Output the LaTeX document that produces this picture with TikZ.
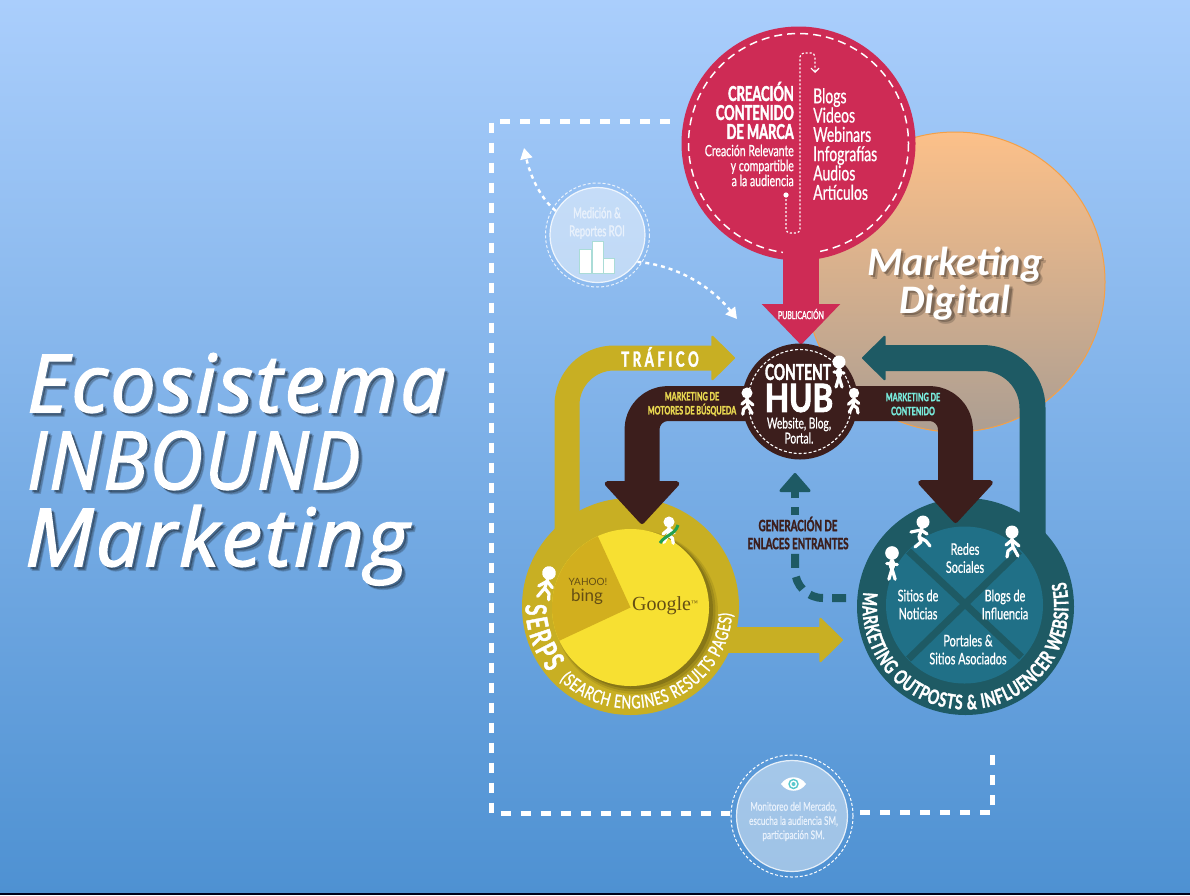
\documentclass[tikz,border=0pt]{standalone}
\usepackage{fontspec}
\usepackage{graphicx}
\usetikzlibrary{arrows.meta,decorations.text,calc}
\newfontfamily\cond[FakeStretch=0.68,FakeBold=0.7]{Lato}
\newfontfamily\condb[FakeStretch=0.63,FakeBold=1.8]{Lato}
\newfontfamily\condm[FakeStretch=0.70,FakeBold=1.4]{Lato}
\newfontfamily\plainf{Lato}
\newfontfamily\titlef[LetterSpace=3,FakeBold=2]{Open Sans}
\newfontfamily\digf{Carlito}
\newfontfamily\gf{Liberation Serif}
\newcommand\fz[2]{\fontsize{#1}{#2}\selectfont}
\definecolor{crim}{RGB}{206,43,85}
\definecolor{hubb}{RGB}{60,30,28}
\definecolor{gold}{RGB}{200,175,35}
\definecolor{tealo}{RGB}{30,90,100}
\definecolor{teali}{RGB}{32,112,135}
\definecolor{yel}{RGB}{247,224,50}
\definecolor{wedge}{RGB}{210,175,30}
\definecolor{yt}{RGB}{232,215,80}
\definecolor{tt}{RGB}{120,235,220}
\definecolor{softw}{RGB}{232,241,252}
\definecolor{eyec}{RGB}{90,200,205}
\definecolor{barc}{RGB}{170,220,215}
\definecolor{grn}{RGB}{35,160,80}
\definecolor{bgA}{RGB}{170,206,252}
\definecolor{bgB}{RGB}{118,172,230}
\definecolor{bgC}{RGB}{78,145,210}
\definecolor{orA}{RGB}{252,192,137}
\definecolor{orB}{RGB}{172,158,146}
\definecolor{orE}{RGB}{245,160,70}
\definecolor{olive}{RGB}{100,78,20}
\pgfdeclarelayer{bgl}\pgfdeclarelayer{back}\pgfdeclarelayer{front}\pgfdeclarelayer{top}
\pgfsetlayers{bgl,back,main,front,top}
\tikzset{
  disc/.style={circle,inner sep=0pt,minimum size=#1},
  lbl/.style={inner sep=0pt,align=center,text=white},
  fat/.style={draw=#1,line join=round},
  ring/.style={draw=white,line width=1.5pt,dash pattern=on 8pt off 5pt},
  thindash/.style={draw=white,line width=2.4pt,dash pattern=on 4pt off 4pt,-{Triangle[width=12pt,length=11pt,fill=white]}},
  bigdash/.style={draw=white,line width=5pt,dash pattern=on 10pt off 10pt},
  softdisc/.style={fill=white,fill opacity=.45,draw=white,draw opacity=.8,line width=1.2pt},
  limb/.style={white,line width=3.2pt,line cap=round,line join=round},
  person/.pic={
    \fill[white] (0,0) circle[radius=6.5];
    \draw[limb] (0,6)--(0,15)--(-3,25) (0,15)--(3,25);
    \draw[white,line width=6pt,line cap=round] (0,9)--(0,13);
    \draw[limb] (-5,10)--(5,11);
  },
  walker/.pic={
    \fill[white] (0,0) circle[radius=6.5];
    \draw[limb] (0,6)--(-1,15)--(-6,24) (-1,15)--(4,19)--(5,25);
    \draw[limb] (0,8)--(-7,14) (0,8)--(6,13);
  },
  runner/.pic={
    \fill[white] (0,0) circle[radius=6.5];
    \draw[limb] (-1,6)--(-4,15)--(-2,20)--(-8,25) (-4,15)--(3,19)--(7,24);
    \draw[limb] (-2,8)--(-12,10) (-2,8)--(4,12);
  }
}
\newcommand\arctext[7]{% cx cy r t0 t1 align text
  \path[decorate,decoration={text along path,text align={#6},text color=white,text={#7}}]
    plot[domain=#4:#5,samples=120] ({#1+#3*cos(\x)},{#2+#3*sin(\x)});}
\newcommand\ttl[4]{%
  \node[anchor=base west,inner sep=0pt,text=black,text opacity=.16,font=\titlef\itshape\fz{80}{80}] (#1a) at (#2+4,#3+4) {#4};
  \node[anchor=base west,inner sep=0pt,text=black,text opacity=.25,font=\titlef\itshape\fz{80}{80}] (#1b) at (#2+2.5,#3+2.5) {#4};
  \node[anchor=base west,inner sep=0pt,text=white,font=\titlef\itshape\fz{80}{80}] (#1) at (#2,#3) {#4};}
\newcommand\dig[4]{%
  \node[anchor=base,inner sep=0pt,text=black,text opacity=.18,font=\digf\bfseries\itshape\fz{40.5}{41}] (#1a) at (#2+4,#3+4) {#4};
  \node[anchor=base,inner sep=0pt,text=black,text opacity=.25,font=\digf\bfseries\itshape\fz{40.5}{41}] (#1b) at (#2+2.5,#3+2.5) {#4};
  \node[anchor=base,inner sep=0pt,text=white,font=\digf\bfseries\itshape\fz{40.5}{41}] (#1) at (#2,#3) {#4};}
\begin{document}
\begin{tikzpicture}[x=1pt,y=-1pt]
\useasboundingbox (0,0) rectangle (1190,895);
\begin{pgfonlayer}{bgl}
  \shade[top color=bgA,middle color=bgB,bottom color=bgC] (0,0) rectangle (1190,893);
  \fill[black!90!blue] (0,893) rectangle (1190,895);
  \node[disc=300pt,top color=orA,bottom color=orB,draw=orE,line width=1pt] (digital) at (955,282) {};
  \dig{dig1}{955}{275}{Marketing}
  \dig{dig2}{955}{313}{Digital}
  \ttl{t1}{27}{412}{\scalebox{1.01}[1]{Ecosistema}}
  \ttl{t2}{27}{489}{\scalebox{.92}[1]{INBOUND}}
  \ttl{t3}{25}{566}{\scalebox{1.02}[1]{Marketing}}
\end{pgfonlayer}

% main discs
\node[disc=217pt,fill=gold] (serps) at (630.5,606.5) {};
\node[disc=217pt,fill=tealo] (outp) at (965.5,606.5) {};
\fill[black!60!gold,opacity=.15] (636,612) circle[radius=82];
\fill[black!60!gold,opacity=.22] (635,611) circle[radius=80.5];
\fill[black!60!gold,opacity=.3] (634,610) circle[radius=79];
\node[disc=157pt,fill=yel] (serpsin) at (630.5,607.5) {};
\fill[wedge] (serpsin.center) -- plot[domain=-114.6:-205,samples=40] ({630.5+78.5*cos(\x)},{607.5+78.5*sin(\x)}) -- cycle;
\node[disc=157pt,fill=teali] (outin) at (964.5,605) {};
\draw[tealo,line width=7pt] ($(outin.center)+(-56,-54)$) -- ($(outin.center)+(57,52)$);
\draw[tealo,line width=7pt] ($(outin.center)+(55,-54)$) -- ($(outin.center)+(-56,54)$);

\node[lbl,text=olive,font=\plainf\fz{10}{10}] (yahoo) at (588,582) {YAHOO!};
\node[lbl,text=olive,font=\plainf\fz{17}{17}] (bing) at (587,597) {bing};
\node[lbl,text=olive,font=\gf\fz{20}{20}] (google) at (665,606) {Google{\raisebox{5pt}{\fz{7}{7}™}}};

\node[lbl,font=\cond\fz{16}{18}] (redes) at (965,558) {Redes\\Sociales};
\node[lbl,font=\cond\fz{16}{18}] (sitios) at (918,604.5) {Sitios de\\Noticias};
\node[lbl,font=\cond\fz{16}{18}] (blogsi) at (1005,604.5) {Blogs de\\Influencia};
\node[lbl,font=\cond\fz{16}{18}] (portales) at (968,649.5) {Portales \&\\Sitios Asociados};

% arrows under the discs
\begin{pgfonlayer}{back}
  \coordinate (gc) at (567,358);
  \coordinate (gt) at (735,358);
  \draw[fat=gold,line width=25pt,rounded corners=47pt,-{Triangle[width=47pt,length=24pt,round,line width=2pt]}] (gc |- serps.center) -- (gc) -- (gt);
  \coordinate (g2) at (843,640);
  \draw[fat=gold,line width=26pt,-{Triangle[width=47pt,length=24pt,round,line width=2pt]}] (serps.center |- g2) -- (g2);
  \coordinate (tc) at (1032.5,358);
  \coordinate (tt) at (862,358);
  \draw[fat=tealo,line width=26pt,rounded corners=50pt,-{Triangle[width=47pt,length=24pt,round,line width=2pt]}] (tc |- outp.center) -- (tc) -- (tt);
\end{pgfonlayer}

% brand content disc
\begin{pgfonlayer}{front}
  \node[disc=234pt,fill=crim] (create) at (798.5,143.5) {};
  \draw[ring] (create.center) circle[radius=110];
  \coordinate (rt) at (801,345);
  \draw[fat=crim,line width=36pt,-{Triangle[width=76pt,length=41pt]}] (create.center -| rt) -- (rt);
  \node[lbl,font=\condb\fz{11}{11}] (pub) at (801,314) {PUBLICACIÓN};
  \node[lbl,align=right,anchor=east,font=\condb\bfseries\fz{20.5}{19}] (ctitle) at (794,110.5) {CREACIÓN\\CONTENIDO\\DE MARCA};
  \node[lbl,align=right,anchor=east,font=\cond\fz{15.5}{15}] (csub) at (794,165.5) {Creación Relevante\\y compartible\\a la audiencia};
  \node[lbl,align=left,anchor=west,font=\cond\fz{20.5}{19.3}] (clist) at (813,144) {Blogs\\Videos\\Webinars\\Infografías\\Audios\\Artículos};
  \fill[white] (786,195) circle[radius=2.6];
  \coordinate (dpa) at (786,195);
  \coordinate (dpb) at (800,233);
  \coordinate (dpc) at (815,53);
  \coordinate (dpd) at (815,73);
  \draw[white,line width=1.2pt,dash pattern=on 2pt off 2pt,rounded corners=4pt,-{Straight Barb[width=8pt,length=4pt,line width=1.2pt]}]
    (dpa) -- (dpa |- dpb) -- (dpb) -- (dpb |- dpc) -- (dpc) -- (dpd);
\end{pgfonlayer}

% hub and the connectors that leave it
\begin{pgfonlayer}{top}
  \node[disc=116pt,fill=hubb] (hub) at (800,401.5) {};
  \draw[white,line width=1.1pt,dash pattern=on 3pt off 2pt] (hub.center) circle[radius=52];
  \node[lbl,font=\condb\bfseries\fz{22}{22}] (hub1) at (798,372) {CONTENT};
  \node[lbl,font=\condb\bfseries\fz{39}{39}] (hub2) at (799,398) {\scalebox{1.28}[1]{HUB}};
  \node[lbl,font=\cond\fz{15}{15}] (hub3) at (799,430.5) {Website, Blog,\\Portal.};
\end{pgfonlayer}
\begin{pgfonlayer}{front}
  \coordinate (bl) at (642,403.5);
  \coordinate (blt) at (642,524);
  \draw[fat=hubb,line width=35pt,rounded corners=26pt,-{Triangle[width=80pt,length=44pt,round,line width=5pt]}] (hub.center |- bl) -- (bl) -- (blt);
  \coordinate (br) at (955.5,403.5);
  \coordinate (brt) at (955.5,523);
  \draw[fat=hubb,line width=35pt,rounded corners=26pt,-{Triangle[width=80pt,length=44pt,round,line width=5pt]}] (hub.center |- br) -- (br) -- (brt);
\end{pgfonlayer}
\begin{pgfonlayer}{top}
  \node[lbl,text=yt,font=\condb\bfseries\fz{11.5}{14}] (mm) at (692,404) {MARKETING DE\\MOTORES DE BÚSQUEDA};
  \node[lbl,text=tt,font=\condb\bfseries\fz{11.5}{14}] (mc) at (913,404) {MARKETING DE\\CONTENIDO};
  \node[lbl,font=\condb\bfseries\fz{21}{21}] (traf) at (660,357) {T\,R\,Á\,F\,I\,C\,O};
  \pic[scale=1] at (839,362) {person};
  \pic[scale=.8] at (854,393) {walker};
  \pic[scale=.85,xscale=-1] at (747,393) {walker};
  \pic[scale=1] at (923,522) {runner};
  \pic[scale=1,xscale=-1] at (1012,532) {walker};
  \pic[scale=1.05] at (892,553) {person};
  \pic[scale=.85] at (669,522) {walker};
  \pic[scale=1.05,rotate=-12] at (549,573) {walker};
  \draw[grn,line width=3pt] (660,543) .. controls (665,535) and (675,535) .. (678,525);
\end{pgfonlayer}

% curved labels
\begin{pgfonlayer}{top}
  \arctext{630.5}{606.5}{105}{181}{141}{fit to path}{|\condm\bfseries\fz{29}{29}|SERPS}
  \arctext{630.5}{606.5}{102}{134}{4}{fit to path}{|\condm\fz{18}{18}|(SEARCH ENGINES RESULTS PAGES)}
  \arctext{965.5}{606.5}{103}{188}{-14}{fit to path}{|\condm\bfseries\fz{20}{20}|MARKETING OUTPOSTS {\&} INFLUENCER WEBSITES}
\end{pgfonlayer}

% inbound links
\node[lbl,text=hubb,font=\condb\bfseries\fz{15.5}{18}] (gen) at (798,533) {GENERACIÓN DE\\ENLACES ENTRANTES};
\coordinate (la) at (846,598);
\coordinate (lb) at (795,598);
\coordinate (lc) at (795,550);
\draw[tealo,line width=8pt,dash pattern=on 14pt off 9pt,rounded corners=28pt] (la) -- (lb) -- (lc);
\coordinate (ld) at (795,515);
\coordinate (le) at (795,473);
\draw[tealo,line width=8pt,dash pattern=on 8pt off 9pt on 30pt,-{Triangle[width=34pt,length=20pt,round,line width=3pt]}] (ld) -- (le);

% measurement disc
\node[disc=95pt,softdisc] (roi) at (597.5,235) {};
\draw[white,opacity=.8,line width=1pt,dash pattern=on 3pt off 2pt] (roi.center) circle[radius=52];
\node[lbl,text=softw,font=\condb\fz{15}{18}] (roit) at (597,223) {Medición \&\\Reportes ROI};
\draw[fill=white,draw=barc,line width=1pt] (579,249) rectangle (591,273);
\draw[fill=white,draw=barc,line width=1pt] (592,241) rectangle (603,273);
\draw[fill=white,draw=barc,line width=1pt] (603,258) rectangle (614,273);
\coordinate (a1) at (524,148);
\coordinate (a2) at (737,319);
\draw[thindash] (roi.150) .. controls (540,198) and (530,175) .. (a1);
\draw[thindash] (roi.-34) .. controls (675,265) and (710,285) .. (a2);

% big loop
\coordinate (p1) at (670,121);
\coordinate (p2) at (491.5,121);
\coordinate (p3) at (491.5,813.5);
\coordinate (p4) at (730,813.5);
\coordinate (p5) at (860,812.6);
\coordinate (p6) at (992.5,812.6);
\coordinate (p7) at (992.5,754);
\draw[bigdash] (p1) -- (p2) -- (p3) -- (p4);
\draw[bigdash] (p5) -- (p6) -- (p7);
\node[disc=111pt,softdisc] (mon) at (792,816) {};
\draw[white,line width=1pt,dash pattern=on 3pt off 2pt] (mon.center) circle[radius=61];
\fill[white] (781,784) .. controls (787,775) and (800,775) .. (806,784) .. controls (800,793) and (787,793) .. (781,784) -- cycle;
\draw[eyec,line width=1.4pt] (793.5,784) circle[radius=4.5];
\fill[eyec] (793.5,784) circle[radius=2];
\node[lbl,text=softw,font=\cond\fz{12}{14.2}] (mont) at (793.5,821.5) {Monitoreo del Mercado,\\escucha la audiencia SM,\\participación SM.};
\end{tikzpicture}
\end{document}
